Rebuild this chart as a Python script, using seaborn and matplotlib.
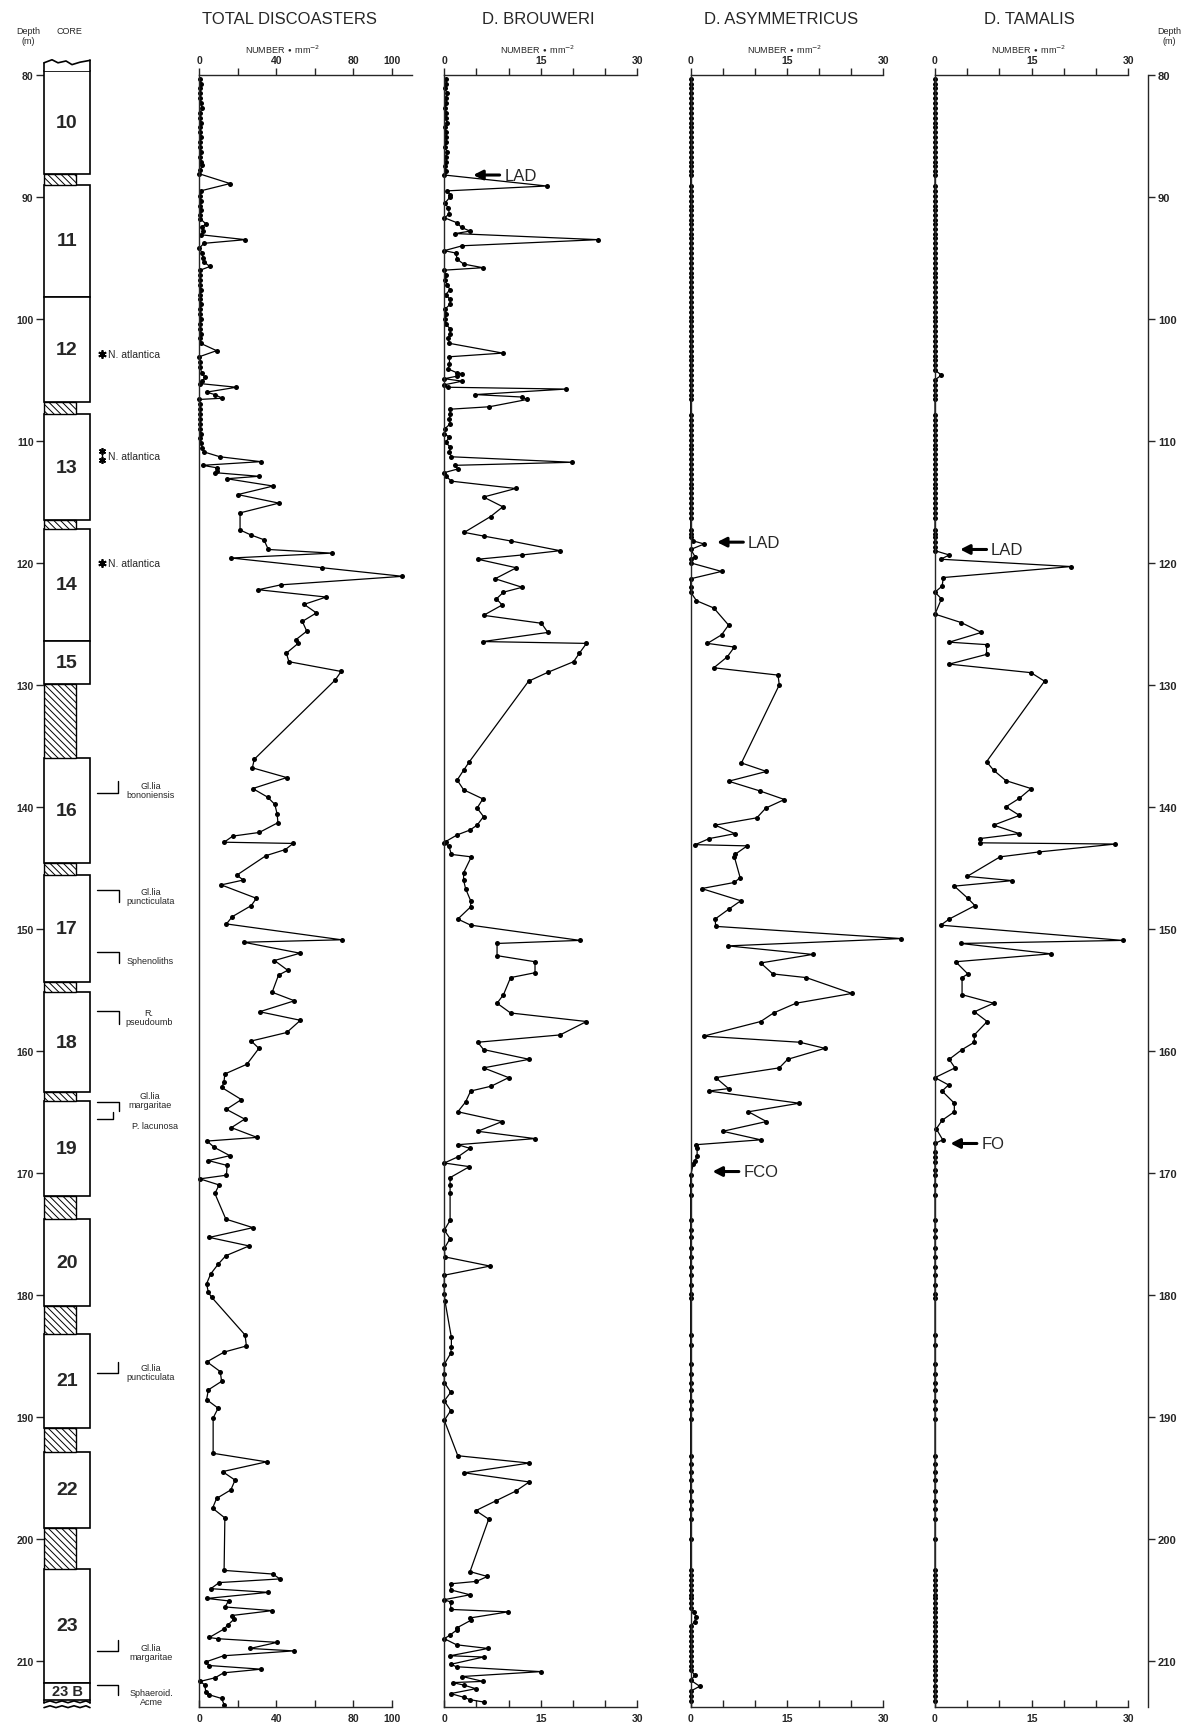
import matplotlib
matplotlib.use("Agg")
import matplotlib.pyplot as plt
from matplotlib.patches import Rectangle
import seaborn as sns
import pandas as pd

# ------------------------------------------------------------------ data
total_depth = [
    80.3, 80.7, 81.1, 81.5, 81.9, 82.3, 82.7, 83.1, 83.5, 83.9,
    84.3, 84.7, 85.1, 85.5, 85.9, 86.3, 86.7, 87.1, 87.4, 87.8,
    88.1, 88.9, 89.5, 89.9, 90.3, 90.7, 91.1, 91.5, 91.8, 92.2,
    92.5, 92.8, 93.1, 93.5, 93.8, 94.2, 94.6, 95.0, 95.3, 95.7,
    96.0, 96.4, 96.8, 97.2, 97.6, 98.0, 98.4, 98.8, 99.2, 99.6,
    100.0, 100.4, 100.8, 101.2, 101.6, 102.0, 102.6, 103.1, 103.5, 103.9,
    104.4, 104.8, 105.1, 105.3, 105.6, 106.0, 106.2, 106.5, 106.6, 107.0,
    107.4, 107.8, 108.2, 108.6, 109.0, 109.4, 109.8, 110.2, 110.6, 110.9,
    111.3, 111.7, 112.0, 112.2, 112.5, 112.6, 112.9, 113.1, 113.7, 114.4,
    115.1, 115.9, 117.3, 117.7, 118.1, 118.9, 119.2, 119.6, 120.4, 121.1,
    121.8, 122.2, 122.8, 123.4, 124.1, 124.8, 125.6, 126.3, 126.6, 127.4,
    128.1, 128.9, 129.6, 136.1, 136.8, 137.6, 138.5, 139.2, 139.8, 140.6,
    141.3, 142.1, 142.4, 142.9, 143.0, 143.5, 144.0, 145.6, 146.0, 146.4,
    147.5, 148.1, 149.0, 149.6, 150.9, 151.1, 152.0, 152.6, 153.4, 153.8,
    155.2, 155.9, 156.8, 157.5, 158.5, 159.2, 159.8, 161.1, 161.9, 162.6,
    163.0, 164.0, 164.8, 165.6, 166.3, 167.1, 167.4, 167.9, 168.6, 169.0,
    169.4, 170.2, 170.5, 171.0, 171.7, 173.8, 174.5, 175.3, 176.0, 176.8,
    177.5, 178.3, 179.1, 179.8, 180.2, 183.3, 184.2, 184.7, 185.5, 186.3,
    187.1, 187.8, 188.6, 189.3, 190.1, 193.0, 193.7, 194.5, 195.2, 196.0,
    196.7, 197.5, 198.3, 202.6, 202.9, 203.3, 203.6, 204.1, 204.4, 204.9,
    205.1, 205.6, 205.9, 206.3, 206.6, 207.1, 207.4, 208.1, 208.2, 208.5,
    209.0, 209.2, 209.6, 210.1, 210.4, 210.7, 211.0, 211.4, 211.7, 212.0,
    212.6, 212.8, 213.1, 213.6]
total_value = [
    0.5, 0.8, 0.3, 0.6, 0.4, 0.9, 1.3, 0.5, 0.3, 0.7,
    0.4, 0.6, 0.9, 0.3, 0.5, 0.7, 0.4, 1.0, 1.3, 0.6,
    0.0, 16.0, 0.7, 0.4, 0.8, 0.3, 0.9, 0.5, 0.6, 3.4,
    1.2, 2.0, 1.0, 24.0, 2.4, 0.0, 1.5, 1.8, 2.2, 5.5,
    0.5, 0.3, 0.6, 0.2, 0.8, 0.4, 0.3, 0.9, 0.5, 0.2,
    0.7, 0.4, 0.6, 0.8, 0.5, 0.7, 9.0, 0.0, 0.6, 0.4,
    1.2, 3.0, 1.5, 0.5, 19.3, 3.8, 8.0, 12.0, 0.0, 0.3,
    0.5, 0.2, 0.6, 0.4, 0.3, 0.7, 0.5, 1.0, 1.5, 2.4,
    10.7, 32.0, 1.7, 9.0, 9.0, 8.0, 31.0, 14.3, 38.4, 20.0,
    41.4, 21.2, 21.2, 26.7, 33.6, 35.9, 69.0, 16.6, 64.0, 105.7,
    42.4, 30.7, 66.0, 54.5, 60.9, 53.6, 55.9, 50.2, 51.4, 45.3,
    46.6, 73.8, 70.7, 28.6, 27.6, 45.5, 27.8, 35.5, 39.3, 40.5,
    40.9, 31.2, 17.4, 12.9, 48.8, 44.8, 34.7, 19.5, 22.9, 11.4,
    29.7, 27.0, 17.2, 14.1, 74.0, 23.1, 52.4, 39.1, 46.0, 41.2,
    37.9, 49.5, 31.4, 52.6, 45.5, 27.0, 31.0, 24.8, 13.3, 12.8,
    11.6, 21.9, 14.1, 23.6, 16.7, 30.0, 4.1, 7.6, 15.9, 4.7,
    14.5, 14.1, 0.3, 10.3, 8.1, 13.8, 27.9, 5.2, 25.9, 13.8,
    9.8, 5.9, 3.8, 4.7, 6.4, 23.8, 24.5, 12.9, 4.0, 10.9,
    11.6, 4.7, 3.8, 9.8, 7.2, 7.2, 35.0, 12.1, 18.6, 16.4,
    9.0, 6.9, 13.3, 12.9, 38.3, 41.9, 10.3, 6.0, 35.9, 4.0,
    15.2, 13.4, 37.9, 16.9, 18.1, 14.7, 12.9, 5.2, 9.5, 40.5,
    26.4, 49.1, 12.6, 3.4, 5.2, 32.2, 12.6, 8.3, 0.5, 2.9,
    3.4, 5.2, 11.6, 12.9]

brouweri_depth = [
    80.3, 80.7, 81.1, 81.5, 81.9, 82.3, 82.7, 83.1, 83.5, 83.9,
    84.3, 84.7, 85.1, 85.5, 85.9, 86.3, 86.7, 87.1, 87.5, 87.9,
    88.2, 89.1, 89.5, 89.8, 90.0, 90.5, 90.9, 91.4, 91.7, 92.1,
    92.5, 92.8, 93.0, 93.5, 94.0, 94.4, 94.6, 95.1, 95.5, 95.8,
    96.0, 96.4, 96.8, 97.2, 97.6, 98.0, 98.4, 98.8, 99.2, 99.6,
    100.0, 100.4, 100.8, 101.2, 101.6, 102.0, 102.8, 103.1, 103.7, 104.1,
    104.4, 104.5, 104.7, 104.9, 105.1, 105.4, 105.6, 105.75, 106.2, 106.4,
    106.6, 107.2, 107.4, 107.8, 108.2, 108.6, 109.0, 109.4, 109.7, 110.1,
    110.5, 110.9, 111.3, 111.75, 112.0, 112.3, 112.6, 112.85, 113.3, 113.9,
    114.6, 115.4, 116.2, 117.5, 117.8, 118.2, 119.0, 119.35, 119.7, 120.4,
    121.3, 122.0, 122.4, 122.95, 123.45, 124.3, 124.95, 125.7, 126.45, 126.6,
    127.4, 128.1, 128.97, 129.7, 136.3, 137.0, 137.8, 138.6, 139.35, 140.1,
    140.8, 141.5, 141.9, 142.3, 142.85, 143.0, 143.2, 143.9, 144.1, 145.4,
    146.0, 146.7, 147.7, 148.2, 149.2, 149.7, 150.95, 151.2, 152.2, 152.7,
    153.6, 154.0, 155.4, 156.1, 156.9, 157.6, 158.7, 159.3, 159.9, 160.7,
    161.4, 162.2, 162.9, 163.3, 164.2, 165.0, 165.8, 166.6, 167.2, 167.7,
    168.0, 168.7, 169.2, 169.5, 170.4, 171.0, 171.7, 173.9, 174.7, 175.4,
    176.2, 176.9, 177.65, 178.4, 179.2, 179.9, 180.5, 183.5, 184.3, 184.8,
    185.7, 186.5, 187.2, 188.0, 188.7, 189.5, 190.3, 193.2, 193.8, 194.6,
    195.35, 196.1, 196.9, 197.7, 198.4, 202.7, 203.1, 203.5, 203.7, 204.2,
    204.6, 205.0, 205.2, 205.8, 206.0, 206.5, 206.7, 207.3, 207.5, 207.9,
    208.2, 208.7, 209.0, 209.6, 209.7, 210.3, 210.5, 210.9, 211.3, 211.7,
    211.8, 212.0, 212.3, 212.7, 213.0, 213.2, 213.4]
brouweri_value = [
    0.2, 0.3, 0.1, 0.4, 0.2, 0.3, 0.1, 0.3, 0.2, 0.4,
    0.1, 0.3, 0.2, 0.3, 0.1, 0.4, 0.2, 0.3, 0.1, 0.2,
    0.0, 15.9, 0.4, 0.9, 0.9, 0.1, 0.6, 0.8, 0.0, 1.9,
    2.7, 4.0, 1.7, 23.9, 2.8, 0.0, 1.8, 2.0, 3.0, 6.0,
    0.0, 0.2, 0.1, 0.4, 0.9, 0.2, 0.9, 0.9, 0.1, 0.3,
    0.1, 0.2, 0.9, 0.9, 0.6, 0.8, 9.1, 0.8, 0.8, 0.6,
    1.9, 2.8, 1.9, 0.0, 2.8, 0.0, 0.6, 18.9, 4.8, 12.0,
    12.9, 7.0, 0.9, 0.9, 0.8, 0.9, 0.1, 0.0, 0.8, 0.2,
    0.9, 0.8, 1.1, 19.9, 1.7, 2.1, 0.0, 0.2, 1.1, 11.1,
    6.1, 9.1, 7.2, 3.1, 6.1, 10.3, 18.0, 12.1, 5.2, 11.2,
    7.9, 12.1, 9.2, 8.1, 9.0, 6.1, 15.1, 16.1, 6.0, 22.1,
    21.0, 20.1, 16.1, 13.1, 3.9, 3.0, 2.0, 3.0, 6.0, 5.1,
    6.1, 5.1, 4.0, 2.0, 0.2, 0.0, 0.7, 1.1, 4.2, 3.0,
    3.0, 3.3, 4.1, 4.1, 2.1, 4.1, 21.1, 8.2, 8.2, 14.1,
    14.1, 10.3, 9.2, 8.2, 10.3, 22.1, 18.0, 5.2, 6.1, 13.2,
    6.1, 10.0, 7.3, 4.1, 3.3, 2.1, 9.0, 5.2, 14.1, 2.1,
    4.0, 2.1, 0.0, 3.9, 0.9, 0.9, 0.9, 0.9, 0.0, 0.9,
    0.0, 0.1, 7.1, 0.0, 0.0, 0.0, 0.1, 1.1, 1.1, 1.0,
    0.0, 0.0, 0.0, 1.0, 0.0, 1.0, 0.0, 2.1, 13.2, 3.1,
    13.2, 11.1, 8.0, 4.9, 6.9, 4.0, 6.7, 5.0, 1.0, 1.0,
    4.0, 0.0, 1.0, 1.0, 9.9, 4.0, 4.1, 2.0, 1.9, 0.9,
    0.0, 1.9, 6.8, 0.9, 6.1, 1.0, 1.9, 15.0, 2.8, 6.0,
    1.3, 3.0, 4.9, 1.0, 3.0, 4.0, 6.2]

# samples common to the asymmetricus / tamalis counts
upper_sample_depth = [
    80.3, 80.7, 81.1, 81.5, 81.9, 82.3, 82.7, 83.1, 83.5, 83.9,
    84.3, 84.7, 85.1, 85.5, 85.9, 86.3, 86.7, 87.1, 87.5, 87.9,
    88.2, 89.1, 89.5, 89.9, 90.3, 90.7, 91.1, 91.5, 91.9, 92.2,
    92.6, 93.0, 93.4, 93.8, 94.2, 94.6, 95.0, 95.4, 95.8, 96.2,
    96.6, 97.0, 97.4, 97.8, 98.2, 98.6, 99.0, 99.4, 99.8, 100.2,
    100.6, 101.0, 101.4, 101.8, 102.2, 102.6, 103.0, 103.4, 103.8, 104.2,
    104.6, 105.0, 105.4, 105.8, 106.2, 106.6, 107.9, 108.3, 108.7, 109.1,
    109.5, 109.9, 110.3, 110.7, 111.1, 111.5, 111.9, 112.3, 112.7, 113.1,
    113.5, 113.9, 114.3, 114.7, 115.1, 115.5, 115.9, 116.3, 117.3, 117.6]
asym_upper_value = [
    0.0, 0.0, 0.0, 0.0, 0.0, 0.0, 0.0, 0.0, 0.0, 0.0,
    0.0, 0.0, 0.0, 0.0, 0.0, 0.0, 0.0, 0.0, 0.0, 0.0,
    0.0, 0.0, 0.0, 0.0, 0.0, 0.0, 0.0, 0.0, 0.0, 0.0,
    0.0, 0.0, 0.0, 0.0, 0.0, 0.0, 0.0, 0.0, 0.0, 0.0,
    0.0, 0.0, 0.0, 0.0, 0.0, 0.0, 0.0, 0.0, 0.0, 0.0,
    0.0, 0.0, 0.0, 0.0, 0.0, 0.0, 0.0, 0.0, 0.0, 0.0,
    0.0, 0.0, 0.0, 0.0, 0.0, 0.0, 0.0, 0.0, 0.0, 0.0,
    0.0, 0.0, 0.0, 0.0, 0.0, 0.0, 0.0, 0.0, 0.0, 0.0,
    0.0, 0.0, 0.0, 0.0, 0.0, 0.0, 0.0, 0.0, 0.0, 0.0]
tamalis_upper_value = [
    0.0, 0.0, 0.0, 0.0, 0.0, 0.0, 0.0, 0.0, 0.0, 0.0,
    0.0, 0.0, 0.0, 0.0, 0.0, 0.0, 0.0, 0.0, 0.0, 0.0,
    0.0, 0.0, 0.0, 0.0, 0.0, 0.0, 0.0, 0.0, 0.0, 0.0,
    0.0, 0.0, 0.0, 0.0, 0.0, 0.0, 0.0, 0.0, 0.0, 0.0,
    0.0, 0.0, 0.0, 0.0, 0.0, 0.0, 0.0, 0.0, 0.0, 0.0,
    0.0, 0.0, 0.0, 0.0, 0.0, 0.0, 0.0, 0.0, 0.0, 0.0,
    1.0, 0.0, 0.0, 0.0, 0.0, 0.0, 0.0, 0.0, 0.0, 0.0,
    0.0, 0.0, 0.0, 0.0, 0.0, 0.0, 0.0, 0.0, 0.0, 0.0,
    0.0, 0.0, 0.0, 0.0, 0.0, 0.0, 0.0, 0.0, 0.0, 0.0]

lower_sample_depth = [
    170.2, 171.0, 171.8, 173.9, 174.7, 175.3, 176.2, 176.9, 177.7, 178.4,
    179.2, 179.9, 180.3, 183.3, 184.1, 185.7, 186.5, 187.2, 187.8, 188.7,
    189.4, 190.2, 193.2, 193.85, 194.5, 195.2, 196.1, 196.9, 197.6, 198.4,
    200.0, 202.6, 203.0, 203.4, 203.8, 204.2, 204.6, 204.9, 205.3, 205.7,
    206.0, 206.4, 206.8, 207.2, 207.6, 208.0, 208.4, 208.8, 209.2, 209.6,
    210.0, 210.4, 210.8, 211.2, 211.6, 212.1, 212.5, 212.9, 213.3]
asym_lower_value = [
    0.0, 0.0, 0.0, 0.0, 0.0, 0.0, 0.0, 0.0, 0.0, 0.0,
    0.0, 0.0, 0.0, 0.0, 0.0, 0.0, 0.0, 0.0, 0.0, 0.0,
    0.0, 0.0, 0.0, 0.0, 0.0, 0.0, 0.0, 0.0, 0.0, 0.0,
    0.0, 0.0, 0.0, 0.0, 0.0, 0.0, 0.0, 0.0, 0.0, 0.0,
    0.5, 0.8, 0.6, 0.0, 0.0, 0.0, 0.0, 0.0, 0.0, 0.0,
    0.0, 0.0, 0.0, 0.7, 0.0, 1.4, 0.0, 0.0, 0.0]
tamalis_lower_value = [
    0.0, 0.0, 0.0, 0.0, 0.0, 0.0, 0.0, 0.0, 0.0, 0.0,
    0.0, 0.0, 0.0, 0.0, 0.0, 0.0, 0.0, 0.0, 0.0, 0.0,
    0.0, 0.0, 0.0, 0.0, 0.0, 0.0, 0.0, 0.0, 0.0, 0.0,
    0.0, 0.0, 0.0, 0.0, 0.0, 0.0, 0.0, 0.0, 0.0, 0.0,
    0.0, 0.0, 0.0, 0.0, 0.0, 0.0, 0.0, 0.0, 0.0, 0.0,
    0.0, 0.0, 0.0, 0.0, 0.0, 0.0, 0.0, 0.0, 0.0]

asym_mid_depth = [
    117.9, 118.2, 118.45, 118.9, 119.5, 119.7, 120.0, 120.7, 121.3, 122.0,
    122.4, 123.1, 123.7, 125.1, 125.9, 126.6, 126.9, 127.7, 128.6, 129.2,
    130.0, 136.4, 137.1, 137.9, 138.7, 139.4, 140.1, 140.9, 141.5, 142.2,
    142.6, 143.1, 143.2, 143.9, 144.1, 145.8, 146.2, 146.7, 147.7, 148.4,
    149.2, 149.8, 150.8, 151.4, 152.1, 152.8, 153.7, 154.0, 155.3, 156.1,
    156.9, 157.6, 158.8, 159.3, 159.8, 160.7, 161.4, 162.2, 163.1, 163.3,
    164.3, 165.0, 165.8, 166.6, 167.3, 167.7, 168.0, 168.6, 169.0, 169.3]
asym_mid_value = [
    0.0, 0.4, 2.1, 0.0, 0.7, 0.0, 0.0, 4.8, 0.0, 0.0,
    0.0, 0.9, 3.6, 5.9, 4.8, 2.6, 6.8, 5.7, 3.6, 13.6,
    13.8, 7.9, 11.8, 5.9, 10.8, 14.6, 11.7, 10.3, 3.8, 6.9,
    2.9, 0.7, 8.8, 6.9, 6.8, 7.7, 6.8, 1.7, 7.8, 5.9,
    3.8, 3.9, 32.8, 5.8, 19.0, 10.9, 12.8, 18.0, 25.1, 16.4,
    12.9, 10.9, 2.0, 17.0, 20.9, 15.1, 13.8, 3.9, 5.9, 2.8,
    16.9, 9.0, 11.8, 5.0, 10.9, 0.8, 1.0, 1.0, 0.7, 0.4]

tamalis_mid_depth = [
    117.9, 118.3, 118.7, 119.0, 119.35, 119.7, 120.3, 121.2, 121.9, 122.4,
    122.95, 124.2, 124.9, 125.7, 126.5, 126.7, 127.5, 128.3, 129.0, 129.7,
    136.3, 137.0, 137.85, 138.5, 139.3, 140.0, 140.7, 141.5, 142.2, 142.6,
    142.95, 143.05, 143.7, 144.1, 145.7, 146.05, 146.5, 147.5, 148.1, 149.2,
    149.7, 150.95, 151.2, 152.05, 152.7, 153.7, 154.0, 155.4, 156.1, 156.8,
    157.6, 158.7, 159.3, 159.9, 160.7, 161.4, 162.2, 162.8, 163.3, 164.3,
    165.0, 165.7, 166.4, 167.3, 167.6, 168.3, 168.7, 169.1, 169.8]
tamalis_mid_value = [
    0.0, 0.0, 0.0, 0.0, 2.2, 0.9, 21.1, 1.3, 1.1, 0.0,
    1.0, 0.0, 4.1, 7.2, 2.2, 8.0, 8.0, 2.2, 14.9, 17.0,
    8.0, 9.1, 11.0, 14.9, 13.1, 11.0, 13.1, 9.1, 13.1, 7.0,
    7.0, 28.0, 16.1, 10.1, 5.0, 12.0, 3.0, 5.1, 6.2, 2.2,
    0.9, 29.1, 4.0, 18.0, 3.2, 5.1, 4.2, 4.2, 9.1, 6.1,
    8.1, 6.1, 6.1, 4.2, 2.2, 3.1, 0.0, 2.1, 1.1, 3.0,
    3.0, 1.1, 0.2, 1.2, 0.0, 0.0, 0.0, 0.0, 0.0]

panel_titles = ["TOTAL DISCOASTERS", "D. BROUWERI", "D. ASYMMETRICUS", "D. TAMALIS"]
panel_xmax = [110.8, 30, 30, 30]
panel_bottom_max = [100, 30, 30, 30]
total_ticks = [0, 20, 40, 60, 80, 100]
total_ticklabels = ["0", "", "40", "", "80", "100"]
species_ticks = [0, 5, 10, 15, 20, 25, 30]
species_ticklabels = ["0", "", "", "15", "", "", "30"]
depth_ticks = [80, 90, 100, 110, 120, 130, 140, 150, 160, 170, 180, 190, 200, 210]

# datum events (arrow + label)
event_panel = [1, 2, 3, 2, 3]
event_label = ["LAD", "LAD", "LAD", "FCO", "FO"]
event_depth = [88.2, 118.3, 118.9, 169.9, 167.6]
event_head = [4.5, 4.1, 3.9, 3.4, 2.4]

# core column
core_names = ["10", "11", "12", "13", "14", "15", "16", "17", "18", "19", "20", "21", "22", "23", "23 B"]
core_top = [79.7, 89.0, 98.2, 107.8, 117.2, 126.4, 136.0, 145.6, 155.2, 164.1, 173.8, 183.2, 192.9, 202.5, 211.8]
core_bottom = [88.1, 98.2, 106.8, 116.5, 126.4, 129.9, 144.6, 154.4, 163.4, 171.9, 180.9, 190.9, 199.1, 211.8, 213.2]
gap_top = [88.1, 106.8, 116.5, 129.9, 144.6, 154.4, 163.4, 171.9, 180.9, 190.9, 199.1]
gap_bottom = [89.0, 107.8, 117.2, 136.0, 145.6, 155.2, 164.1, 173.8, 183.2, 192.9, 202.5]

atlantica_depth = [102.9, 111.2, 120.0]
marker_depth = [138.9, 146.8, 151.9, 156.7, 164.2, 165.6, 186.4, 209.2, 212.0]
marker_end = [137.9, 147.8, 152.8, 157.8, 164.9, 165.0, 185.5, 208.3, 212.8]
marker_xend = [118, 119, 119, 119, 119, 113, 118, 118, 118]
marker_labels = ["Gl.lia\nbononiensis", "Gl.lia\npuncticulata", "Sphenoliths", "R.\npseudoumb",
                 "Gl.lia\nmargaritae", "P. lacunosa", "Gl.lia\npuncticulata", "Gl.lia\nmargaritae",
                 "Sphaeroid.\nAcme"]
marker_label_depth = [138.65, 147.3, 152.6, 157.25, 164.0, 166.1, 186.3, 209.3, 213.0]
marker_label_x = [151, 151, 150, 149, 150, 155, 151, 151, 151]

# ------------------------------------------------------------------ style
sns.set_style("white")
plt.rcParams["font.family"] = ["Liberation Sans", "DejaVu Sans"]
plt.rcParams["hatch.linewidth"] = 0.7
plt.rcParams["axes.linewidth"] = 1.0

W, H = 1187, 1731
Y_TOP, Y_BOT = 76.0, 1708.0
D_TOP, D_BOT = 80.0, 213.8

fig = plt.figure(figsize=(W / 100, H / 100), dpi=100)
fig.patch.set_facecolor("white")


def rect(x0, x1):
    return [x0 / W, 1 - Y_BOT / H, (x1 - x0) / W, (Y_BOT - Y_TOP) / H]


panel_px = [(199.3, 412.3), (444.3, 637.3), (690.7, 883.3), (935.0, 1128.3)]

asym_depth = upper_sample_depth + asym_mid_depth + lower_sample_depth
asym_value = asym_upper_value + asym_mid_value + asym_lower_value
tamalis_depth = upper_sample_depth + tamalis_mid_depth + lower_sample_depth
tamalis_value = tamalis_upper_value + tamalis_mid_value + tamalis_lower_value

series = [
    pd.DataFrame({"depth": total_depth, "value": total_value}),
    pd.DataFrame({"depth": brouweri_depth, "value": brouweri_value}),
    pd.DataFrame({"depth": asym_depth, "value": asym_value}),
    pd.DataFrame({"depth": tamalis_depth, "value": tamalis_value}),
]

axes = []
for i, (x0, x1) in enumerate(panel_px):
    ax = fig.add_axes(rect(x0, x1))
    ax.set_facecolor("none")
    sns.lineplot(data=series[i], x="value", y="depth", ax=ax, sort=False, estimator=None,
                 color="black", linewidth=0.9, marker="o", markersize=3.6,
                 markeredgewidth=0, clip_on=False, legend=False)
    ax.set_xlim(0, panel_xmax[i])
    ax.set_ylim(D_BOT, D_TOP)
    ax.set_xlabel("")
    ax.set_ylabel("")
    ax.set_yticks([])
    ax.grid(False)
    ax.spines["right"].set_visible(False)
    ax.spines["top"].set_visible(False)
    ax.spines["bottom"].set_bounds(0, panel_bottom_max[i])
    ticks = total_ticks if i == 0 else species_ticks
    labels = total_ticklabels if i == 0 else species_ticklabels
    ax.set_xticks(ticks)
    ax.set_xticklabels(labels, fontsize=7.5, fontweight="bold")
    ax.tick_params(axis="x", direction="in", length=5, width=1, pad=4, bottom=True)
    sec = ax.secondary_xaxis("top")
    sec.set_xticks(ticks)
    sec.set_xticklabels(labels, fontsize=7.5, fontweight="bold")
    sec.tick_params(direction="out", length=5, width=1, pad=2)
    sec.spines["top"].set_linewidth(1.0)
    axes.append(ax)

# titles and units
title_x = [289, 538, 781, 1029]
unit_x = [283, 538, 785, 1029]
for i in range(4):
    fig.text(title_x[i] / W, 1 - 19 / H, panel_titles[i], ha="center", va="center", fontsize=12)
    fig.text(unit_x[i] / W, 1 - 50 / H, r"NUMBER $\bullet$ mm$^{-2}$", ha="center", va="center",
             fontsize=6.5)

# datum events
for p, lab, d, hx in zip(event_panel, event_label, event_depth, event_head):
    ax = axes[p]
    ax.annotate("", xy=(hx, d), xytext=(hx + 4.1, d),
                arrowprops=dict(arrowstyle="-|>,head_length=0.55,head_width=0.28", lw=2.2,
                                color="black", shrinkA=0, shrinkB=0),
                annotation_clip=False)
    ax.text(hx + 4.8, d, lab, ha="left", va="center", fontsize=12)

# ------------------------------------------------------------------ core column
axc = fig.add_axes(rect(0, 195))
axc.set_facecolor("none")
axc.set_xlim(0, 195)
axc.set_ylim(D_BOT, D_TOP)
for s in ["top", "right", "bottom", "left"]:
    axc.spines[s].set_visible(False)
axc.spines["left"].set_position(("data", 44))
axc.set_xticks([])
axc.set_yticks(depth_ticks)
axc.set_yticklabels([str(t) for t in depth_ticks], fontsize=7.5, fontweight="bold")
axc.tick_params(axis="y", direction="out", length=6, width=1, pad=1.5, left=True)

for name, t, b in zip(core_names, core_top, core_bottom):
    axc.add_patch(Rectangle((44, t), 46, b - t, facecolor="white", edgecolor="black",
                            lw=1.2, clip_on=False))
    axc.text(67, (t + b) / 2, name, ha="center", va="center",
             fontsize=14 if name != "23 B" else 10.5, fontweight="bold", clip_on=False)
for t, b in zip(gap_top, gap_bottom):
    axc.add_patch(Rectangle((44, t), 32, b - t, facecolor="white", edgecolor="black",
                            hatch="\\\\\\\\\\", lw=1.0, clip_on=False))

# broken top / bottom of the cored interval
axc.add_patch(Rectangle((44, 79.0), 46, 0.7, facecolor="white", edgecolor="none", clip_on=False))
axc.plot([44, 44], [79.0, 79.7], color="black", lw=1.2, clip_on=False)
axc.plot([90, 90], [78.8, 79.7], color="black", lw=1.2, clip_on=False)
axc.plot([44, 52, 58, 66, 72, 80, 90], [79.0, 78.75, 79.0, 78.85, 79.15, 78.95, 78.8],
         color="black", lw=1.2, clip_on=False)
for yy in [213.45, 213.85]:
    axc.plot([44, 50, 56, 62, 68, 74, 80, 86, 90], [yy, yy - 0.15, yy, yy - 0.15, yy, yy - 0.15, yy, yy - 0.15, yy],
             color="black", lw=1.2, clip_on=False)
axc.plot([44, 44], [213.2, 213.5], color="black", lw=1.2, clip_on=False)
axc.plot([90, 90], [213.2, 213.5], color="black", lw=1.2, clip_on=False)

# N. atlantica occurrences
for k, d in enumerate(atlantica_depth):
    if k == 1:
        axc.plot([102, 102], [d - 0.45, d + 0.45], color="black", lw=1.0, clip_on=False)
        axc.plot([102, 102], [d - 0.4, d + 0.4], ls="none", marker=(6, 2, 0), ms=5,
                 color="black", mew=1.2, clip_on=False)
    else:
        axc.plot([102], [d], ls="none", marker=(6, 2, 0), ms=6, color="black", mew=1.3,
                 clip_on=False)
    axc.text(108, d, "N. atlantica", ha="left", va="center", fontsize=7.5)

# biostratigraphic markers
for d, e, xe, lab, ld, lx in zip(marker_depth, marker_end, marker_xend, marker_labels,
                                 marker_label_depth, marker_label_x):
    axc.plot([97, xe, xe], [d, d, e], color="black", lw=1.0, clip_on=False)
    axc.text(lx, ld, lab, ha="center", va="center", fontsize=6.5, linespacing=1.0, clip_on=False)

fig.text(28 / W, 1 - 31 / H, "Depth", ha="center", va="center", fontsize=6.5)
fig.text(28 / W, 1 - 41 / H, "(m)", ha="center", va="center", fontsize=6.5)
fig.text(69 / W, 1 - 32 / H, "CORE", ha="center", va="center", fontsize=6.5)

# ------------------------------------------------------------------ right depth axis
axr = fig.add_axes(rect(1147.7, 1148.2))
axr.set_facecolor("none")
axr.set_ylim(D_BOT, D_TOP)
axr.set_xticks([])
for s in ["top", "left", "bottom"]:
    axr.spines[s].set_visible(False)
axr.spines["right"].set_visible(True)
axr.yaxis.tick_right()
axr.set_yticks(depth_ticks)
axr.set_yticklabels([str(t) for t in depth_ticks], fontsize=8, fontweight="bold")
axr.tick_params(axis="y", direction="out", length=5, width=1, pad=2, right=True)
fig.text(1169 / W, 1 - 31 / H, "Depth", ha="center", va="center", fontsize=6.5)
fig.text(1169 / W, 1 - 41 / H, "(m)", ha="center", va="center", fontsize=6.5)

fig.savefig("out.png", dpi=100, facecolor="white")
